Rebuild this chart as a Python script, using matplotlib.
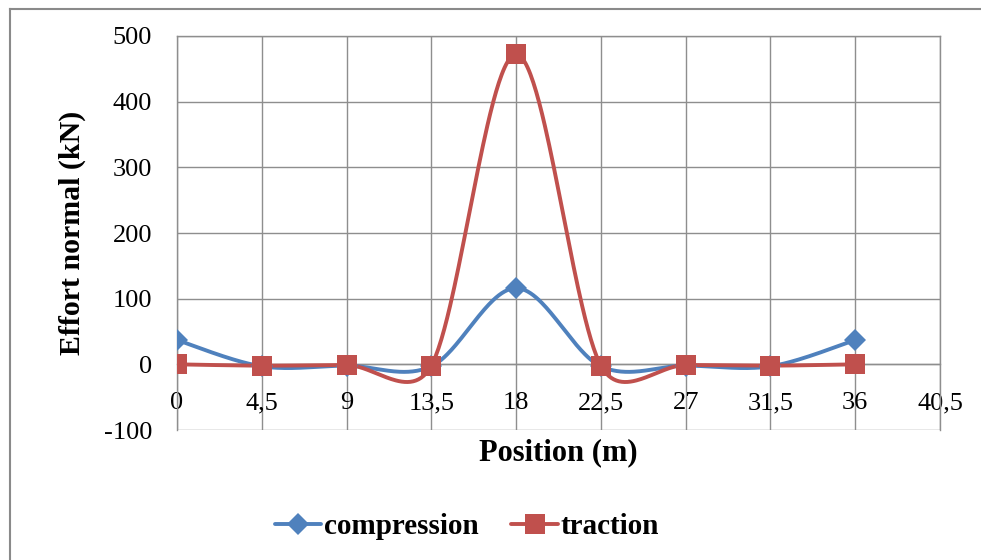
import numpy as np
import matplotlib
matplotlib.use("Agg")
import matplotlib.pyplot as plt
from matplotlib.lines import Line2D

# Normal force along the structure
positions = [0, 4.5, 9, 13.5, 18, 22.5, 27, 31.5, 36]
compression = [37, -3, -2, -3, 116, -3, -2, -3, 37]
traction = [0, -2, -1, -2, 472, -2, -1, -2, 0]

x_ticks = [0, 4.5, 9, 13.5, 18, 22.5, 27, 31.5, 36, 40.5]
x_tick_labels = ["0", "4,5", "9", "13,5", "18", "22,5", "27", "31,5", "36", "40,5"]
y_ticks = [-100, 0, 100, 200, 300, 400, 500]

BLUE = "#4F81BD"
RED = "#C0504D"
GRID = "#8E8E8E"
SERIF = "Liberation Serif"

plt.rcParams["font.family"] = [SERIF, "DejaVu Serif"]
plt.rcParams["axes.unicode_minus"] = False


def smooth_curve(ax, xs, ys, n=60):
    """Bezier smoothing in screen space; control arms are 1/6 of the
    neighbour chord, capped at half of the segment length."""
    pts = ax.transData.transform(np.column_stack([xs, ys]))
    N = len(pts)
    out = [pts[0]]
    for i in range(N - 1):
        p0, p3 = pts[i], pts[i + 1]
        prev = pts[i - 1] if i > 0 else pts[i]
        nxt = pts[i + 2] if i + 2 < N else pts[i + 1]
        seg_len = np.hypot(*(p3 - p0))
        t1 = p3 - prev
        t2 = nxt - p0
        f1, f2 = 1 / 6, 1 / 6
        n1, n2 = np.hypot(*t1), np.hypot(*t2)
        if n1 / 6 > seg_len / 2:
            f1 = seg_len / 2 / n1
        if n2 / 6 > seg_len / 2:
            f2 = seg_len / 2 / n2
        c1 = p0 + t1 * f1
        c2 = p3 - t2 * f2
        t = np.linspace(0, 1, n)[1:, None]
        seg = ((1 - t) ** 3) * p0 + 3 * ((1 - t) ** 2) * t * c1 \
            + 3 * (1 - t) * t ** 2 * c2 + t ** 3 * p3
        out.extend(seg)
    return ax.transData.inverted().transform(np.array(out))


W, H = 981, 560
fig = plt.figure(figsize=(W / 100, H / 100), dpi=100)
fig.patch.set_facecolor("white")

left, right, top, bottom = 177, 940, 36, 430
ax = fig.add_axes([left / W, 1 - bottom / H, (right - left) / W, (bottom - top) / H])
ax.set_xlim(0, 40.5)
ax.set_ylim(-100, 500)

ax.set_xticks(x_ticks)
ax.set_xticklabels(x_tick_labels)
ax.set_yticks(y_ticks)
ax.grid(True, color=GRID, linewidth=1.0)
ax.set_axisbelow(True)
for side in ["left", "right", "top"]:
    ax.spines[side].set_color(GRID)
    ax.spines[side].set_linewidth(1.0)
ax.spines["bottom"].set_position(("data", 0))
ax.spines["bottom"].set_color(GRID)
ax.spines["bottom"].set_linewidth(1.0)
ax.tick_params(axis="both", length=0, labelsize=19, colors="black")
ax.tick_params(axis="x", pad=20)
ax.tick_params(axis="y", pad=18)

for ys, color, marker, ms in [
    (compression, BLUE, "D", 11),
    (traction, RED, "s", 14),
]:
    curve = smooth_curve(ax, positions, ys)
    ax.plot(curve[:, 0], curve[:, 1], color=color, linewidth=2.8,
            solid_capstyle="round", zorder=3)
    ax.plot(positions, ys, linestyle="none", marker=marker, markersize=ms,
            color=color, markeredgewidth=0, zorder=4)

ax.set_ylabel("Effort normal (kN)", fontsize=21.5, fontweight="bold", labelpad=13)
fig.text((left + right) / 2 / W, 1 - 453 / H, "Position (m)", fontsize=22,
         fontweight="bold", ha="center", va="center")

handles = [
    Line2D([], [], color=BLUE, linewidth=2.8, marker="D", markersize=11,
           markeredgewidth=0, solid_capstyle="round"),
    Line2D([], [], color=RED, linewidth=2.8, marker="s", markersize=14,
           markeredgewidth=0, solid_capstyle="round"),
]
fig.legend(handles, ["compression", "traction"], loc="center",
           bbox_to_anchor=(467 / W, 1 - 527 / H), ncol=2, frameon=False,
           prop={"family": SERIF, "weight": "bold", "size": 21},
           handlelength=1.6, handletextpad=0.1, columnspacing=1.1)

# Chart frame
fig.add_artist(Line2D([9.5 / W, 1.0], [1 - 8.5 / H, 1 - 8.5 / H],
                      transform=fig.transFigure, color="#8A8A8A", linewidth=1.5))
fig.add_artist(Line2D([9.5 / W, 9.5 / W], [0.0, 1 - 8.5 / H],
                      transform=fig.transFigure, color="#8A8A8A", linewidth=1.5))

fig.savefig("out.png", dpi=100, facecolor="white")
